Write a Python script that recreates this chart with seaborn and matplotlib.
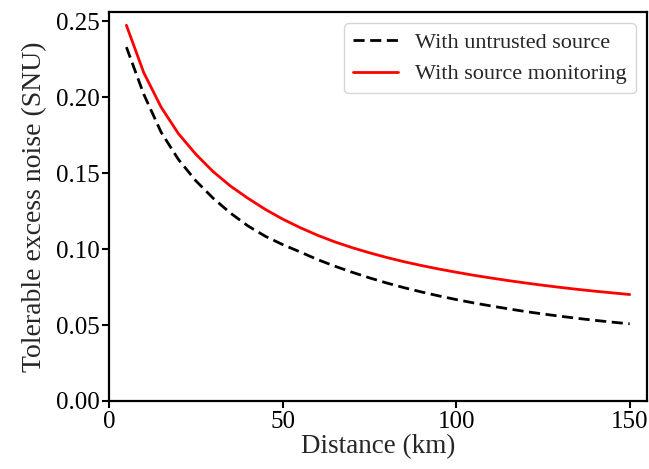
import numpy as np
import pandas as pd
import matplotlib
matplotlib.use("Agg")
import matplotlib.pyplot as plt
import seaborn as sns

distance_km = [5, 10, 15, 20, 25, 30, 35, 40, 45, 50, 55, 60, 65, 70, 75,
               80, 85, 90, 95, 100, 105, 110, 115, 120, 125, 130, 135, 140, 145, 150]
untrusted = [0.233, 0.202, 0.177, 0.159, 0.145, 0.1335, 0.1237, 0.1153, 0.1085, 0.103,
             0.0982, 0.0932, 0.0888, 0.0848, 0.0811, 0.0777, 0.0746, 0.0718, 0.0692, 0.0668,
             0.0646, 0.0626, 0.0607, 0.0589, 0.0573, 0.0558, 0.0544, 0.0531, 0.0519, 0.0508]
monitoring = [0.2474, 0.2162, 0.1935, 0.176, 0.1625, 0.151, 0.1415, 0.1335, 0.1262, 0.1198,
              0.1142, 0.1092, 0.1048, 0.1010, 0.0976, 0.0945, 0.0917, 0.0892, 0.0869, 0.0848,
              0.0828, 0.081, 0.0793, 0.0777, 0.0762, 0.0748, 0.0735, 0.0723, 0.0712, 0.0701]
series_names = ["With untrusted source", "With source monitoring"]

df = pd.DataFrame({
    "Distance": distance_km * 2,
    "Noise": untrusted + monitoring,
    "Series": [series_names[0]] * len(distance_km) + [series_names[1]] * len(distance_km),
})

sns.set_style("ticks")
plt.rcParams["font.family"] = ["Liberation Serif", "DejaVu Serif"]

fig = plt.figure(figsize=(6.49, 4.69), dpi=100)
ax = fig.add_axes([0.168, 0.145, 0.829, 0.829])

sns.lineplot(data=df, x="Distance", y="Noise", hue="Series", style="Series",
             palette={series_names[0]: "black", series_names[1]: "red"},
             dashes={series_names[0]: (4, 2), series_names[1]: ""},
             linewidth=2, ax=ax)

ax.set_xlim(0, 155)
ax.set_ylim(0, 0.256)
ax.set_xticks([0, 50, 100, 150])
ax.set_yticks([0.0, 0.05, 0.10, 0.15, 0.20, 0.25])
ax.set_yticklabels([f"{v:.2f}" for v in [0.0, 0.05, 0.10, 0.15, 0.20, 0.25]])
ax.tick_params(labelsize=18, width=1.5, length=5, color="black", labelcolor="black", pad=2)
ax.set_xlabel("Distance (km)", fontsize=19.5, labelpad=1)
ax.set_ylabel("Tolerable excess noise (SNU)", fontsize=20, labelpad=6)
for s in ax.spines.values():
    s.set_linewidth(1.6)
    s.set_color("black")
    s.set_visible(True)

leg = ax.legend(loc="upper right", fontsize=16, frameon=True, fancybox=True,
                handlelength=2.0, borderaxespad=0.5)
leg.get_frame().set_edgecolor("#cccccc")
leg.set_title(None)

fig.savefig("out.png", dpi=100)
